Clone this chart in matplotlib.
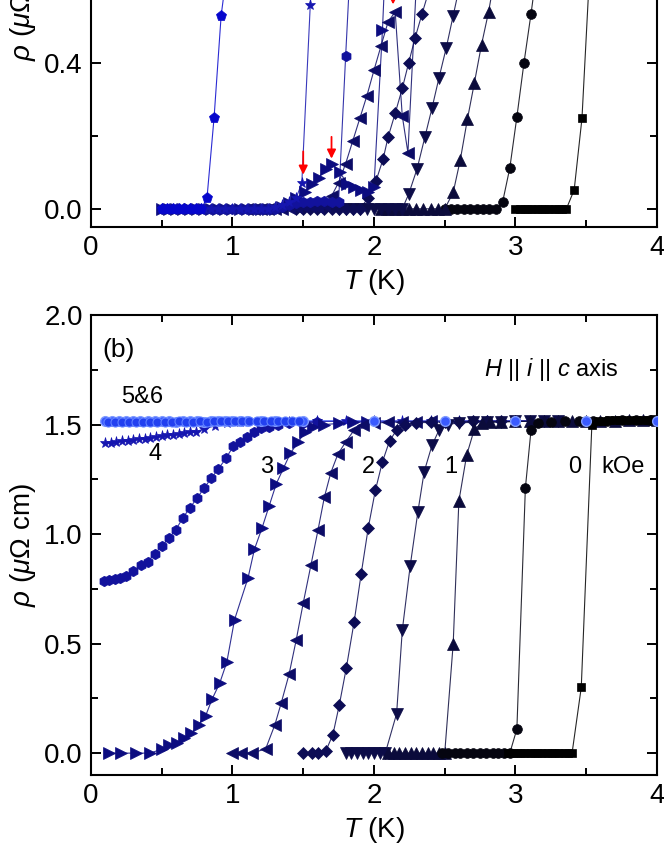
import matplotlib
matplotlib.use('Agg')
import matplotlib.pyplot as plt
from matplotlib.ticker import MultipleLocator, FormatStrFormatter

plt.rcParams['font.family'] = ['Liberation Sans', 'DejaVu Sans']
plt.rcParams['mathtext.fontset'] = 'custom'
plt.rcParams['mathtext.it'] = 'Liberation Sans:italic'
plt.rcParams['mathtext.rm'] = 'Liberation Sans'

# ---------------- panel (a) data ----------------
a0_T = [3.00, 3.03, 3.06, 3.09, 3.12, 3.15, 3.18, 3.21, 3.24, 3.27, 3.30, 3.33, 3.36, 3.415, 3.47, 3.52, 3.60]
a0_R = [0, 0, 0, 0, 0, 0, 0, 0, 0, 0, 0, 0, 0, 0.052, 0.248, 0.62, 0.95]

a05_T = [2.50, 2.545, 2.59, 2.635, 2.68, 2.725, 2.77, 2.815, 2.86, 2.91, 2.96, 3.01, 3.06, 3.11, 3.16]
a05_R = [0, 0, 0, 0, 0, 0, 0, 0, 0, 0.02, 0.112, 0.252, 0.40, 0.535, 0.68]

a1_T = [2.05, 2.10, 2.15, 2.20, 2.25, 2.30, 2.35, 2.40, 2.45, 2.50, 2.56, 2.61, 2.66, 2.71, 2.76, 2.81, 2.86]
a1_R = [0, 0, 0, 0, 0, 0, 0, 0, 0, 0, 0.045, 0.134, 0.245, 0.346, 0.45, 0.54, 0.65]

a15_T = [1.75, 1.80, 1.85, 1.90, 1.95, 2.00, 2.05, 2.10, 2.15, 2.20, 2.245, 2.305, 2.36, 2.41, 2.46, 2.51, 2.56, 2.61]
a15_R = [0, 0, 0, 0, 0, 0, 0, 0, 0, 0, 0.04, 0.11, 0.197, 0.276, 0.36, 0.44, 0.53, 0.62]

a2_T = [1.45, 1.50, 1.55, 1.60, 1.65, 1.70, 1.75, 1.80, 1.85, 1.90, 1.96, 2.015, 2.065, 2.10, 2.15, 2.20,
        2.245, 2.29, 2.34, 2.39]
a2_R = [0, 0, 0, 0, 0, 0, 0, 0, 0, 0, 0.03, 0.077, 0.137, 0.197, 0.262, 0.33, 0.40, 0.468, 0.535, 0.60]

a25_T = [1.10, 1.15, 1.20, 1.25, 1.30, 1.35, 1.40, 1.45, 1.50, 1.55, 1.60, 1.65, 1.70, 1.75, 1.80, 1.85,
         1.90, 1.95, 2.00, 2.05, 2.10, 2.15, 2.20, 2.24, 2.30, 2.35]
a25_R = [0, 0, 0, 0, 0, 0, 0.003, 0.005, 0.008, 0.008, 0.006, 0.01, 0.035, 0.072, 0.124, 0.186,
         0.248, 0.31, 0.38, 0.447, 0.513, 0.54, 0.255, 0.154, 0.62, 0.90]

a3_T = [0.50, 0.55, 0.60, 0.65, 0.70, 0.75, 0.80, 0.85, 0.90, 0.95, 1.00, 1.05, 1.10, 1.15, 1.20, 1.25,
        1.30, 1.35, 1.40, 1.45, 1.515, 1.56, 1.61, 1.66, 1.70, 1.76, 1.81, 1.86, 1.91, 1.96, 2.00, 2.06, 2.10]
a3_R = [0, 0, 0, 0, 0, 0, 0, 0, 0, 0, 0, 0, 0, 0, 0, 0,
        0, 0.005, 0.015, 0.03, 0.047, 0.069, 0.085, 0.11, 0.124, 0.10, 0.069, 0.06, 0.052, 0.047, 0.06, 0.49, 0.85]

a35_T = [0.50, 0.55, 0.60, 0.65, 0.70, 0.75, 0.80, 0.85, 0.90, 0.95, 1.00, 1.05, 1.10, 1.15, 1.20, 1.25,
         1.30, 1.35, 1.40, 1.45, 1.50, 1.55, 1.60, 1.65, 1.70, 1.75, 1.80, 1.85]
a35_R = [0, 0, 0, 0, 0, 0, 0, 0, 0, 0, 0, 0, 0, 0, 0, 0,
         0, 0.005, 0.01, 0.015, 0.02, 0.02, 0.022, 0.022, 0.02, 0.02, 0.42, 0.80]

a4_T = [0.50, 0.55, 0.60, 0.65, 0.70, 0.75, 0.80, 0.85, 0.90, 0.95, 1.00, 1.05, 1.10, 1.15, 1.20, 1.25,
        1.30, 1.35, 1.40, 1.45, 1.49, 1.55, 1.60]
a4_R = [0, 0, 0, 0, 0, 0, 0, 0, 0, 0, 0, 0, 0, 0, 0, 0,
        0.005, 0.01, 0.02, 0.03, 0.07, 0.56, 0.90]

a5_T = [0.50, 0.54, 0.58, 0.62, 0.66, 0.70, 0.74, 0.78, 0.82, 0.87, 0.92, 0.97]
a5_R = [0, 0, 0, 0, 0, 0, 0, 0, 0.03, 0.25, 0.53, 0.68]

arrow_T = [1.50, 1.70, 2.135]
arrow_tip = [0.086, 0.13, 0.553]
arrow_tail = [0.165, 0.205, 0.66]

# ---------------- panel (b) data ----------------
b0_T = [2.95, 2.98, 3.01, 3.04, 3.07, 3.10, 3.13, 3.16, 3.19, 3.22, 3.25, 3.28, 3.31, 3.34, 3.37, 3.40,
        3.465, 3.54, 3.58, 3.62, 3.66, 3.70, 3.74, 3.78, 3.82, 3.86, 3.90, 3.94, 3.98]
b0_R = [0, 0, 0, 0, 0, 0, 0, 0, 0, 0, 0, 0, 0, 0, 0, 0,
        0.30, 1.50, 1.515, 1.518, 1.52, 1.52, 1.522, 1.52, 1.522, 1.523, 1.522, 1.523, 1.524]

b05_T = [2.48, 2.52, 2.57, 2.61, 2.66, 2.70, 2.75, 2.79, 2.84, 2.88, 2.92, 2.96, 3.01, 3.07, 3.11, 3.16,
         3.25, 3.35, 3.45, 3.55, 3.65, 3.75, 3.85, 3.95]
b05_R = [0, 0, 0, 0, 0, 0, 0, 0, 0, 0, 0, 0, 0.11, 1.21, 1.475, 1.505,
         1.512, 1.515, 1.517, 1.518, 1.518, 1.52, 1.52, 1.521]

b1_T = [2.10, 2.14, 2.18, 2.22, 2.26, 2.30, 2.34, 2.38, 2.42, 2.46, 2.50, 2.56, 2.60, 2.655, 2.71, 2.76,
        2.82, 2.90, 3.00, 3.10, 3.20, 3.30, 3.40, 3.50, 3.60, 3.70, 3.80, 3.90, 4.00]
b1_R = [0, 0, 0, 0, 0, 0, 0, 0, 0, 0, 0, 0.50, 1.15, 1.36, 1.48, 1.505,
        1.51, 1.512, 1.514, 1.515, 1.515, 1.516, 1.517, 1.517, 1.518, 1.518, 1.519, 1.519, 1.52]

b15_T = [1.80, 1.84, 1.88, 1.92, 1.96, 2.00, 2.04, 2.08, 2.16, 2.20, 2.256, 2.31, 2.355, 2.41, 2.46, 2.52,
         2.60, 2.70, 2.80, 2.90, 3.00, 3.10, 3.20, 3.30]
b15_R = [0, 0, 0, 0, 0, 0, 0, 0, 0.18, 0.56, 0.855, 1.10, 1.285, 1.405, 1.475, 1.50,
         1.508, 1.51, 1.512, 1.513, 1.514, 1.515, 1.515, 1.516]

b2_T = [1.50, 1.56, 1.605, 1.66, 1.71, 1.755, 1.805, 1.86, 1.91, 1.96, 2.01, 2.06, 2.11, 2.16, 2.22, 2.30,
        2.40, 2.50, 2.60, 2.70, 2.80, 2.90]
b2_R = [0, 0, 0, 0.01, 0.085, 0.22, 0.39, 0.60, 0.82, 1.03, 1.20, 1.33, 1.425, 1.475, 1.50, 1.508,
        1.51, 1.512, 1.513, 1.514, 1.515, 1.515]

b25_T = [1.00, 1.06, 1.14, 1.235, 1.30, 1.345, 1.40, 1.45, 1.50, 1.555, 1.605, 1.65, 1.695, 1.745, 1.80, 1.86,
         1.92, 2.00, 2.10, 2.20, 2.30, 2.40]
b25_R = [0, 0, 0, 0.02, 0.13, 0.23, 0.36, 0.515, 0.685, 0.86, 1.02, 1.17, 1.28, 1.365, 1.42, 1.475,
         1.50, 1.507, 1.51, 1.512, 1.513, 1.514]

b3_T = [0.13, 0.21, 0.315, 0.42, 0.505, 0.555, 0.605, 0.66, 0.71, 0.76, 0.81, 0.855, 0.91, 0.96, 1.015, 1.11,
        1.155, 1.21, 1.26, 1.31, 1.36, 1.41, 1.465, 1.51, 1.57, 1.65, 1.75, 1.85, 1.95]
b3_R = [0, 0, 0, 0, 0.02, 0.036, 0.045, 0.07, 0.09, 0.13, 0.17, 0.245, 0.32, 0.415, 0.61, 0.80,
        0.93, 1.03, 1.13, 1.23, 1.30, 1.37, 1.42, 1.465, 1.49, 1.50, 1.505, 1.51, 1.512]

b35_T = [0.09, 0.13, 0.17, 0.205, 0.25, 0.30, 0.355, 0.40, 0.45, 0.50, 0.55, 0.60, 0.65, 0.70, 0.75, 0.80,
         0.85, 0.90, 0.955, 1.005, 1.05, 1.10, 1.15, 1.20, 1.26, 1.32, 1.40, 1.50, 1.60]
b35_R = [0.785, 0.79, 0.795, 0.80, 0.81, 0.83, 0.858, 0.873, 0.91, 0.945, 0.98, 1.02, 1.075, 1.12, 1.165, 1.21,
         1.255, 1.297, 1.347, 1.40, 1.42, 1.445, 1.467, 1.483, 1.49, 1.50, 1.505, 1.508, 1.51]

b4_T = [0.10, 0.14, 0.18, 0.22, 0.26, 0.30, 0.34, 0.38, 0.42, 0.46, 0.50, 0.54, 0.58, 0.62, 0.66, 0.70,
        0.74, 0.80, 0.88, 0.96, 1.05, 1.20, 1.40, 1.60, 1.80, 2.00, 2.20, 2.40, 2.60, 2.80, 3.00, 3.20]
b4_R = [1.417, 1.418, 1.421, 1.424, 1.426, 1.430, 1.433, 1.436, 1.440, 1.443, 1.446, 1.450, 1.453, 1.457,
        1.460, 1.464, 1.467, 1.48, 1.495, 1.505, 1.51, 1.512, 1.513, 1.514, 1.515, 1.515, 1.516, 1.516,
        1.517, 1.517, 1.518, 1.518]

b5_T = [0.12, 0.17, 0.22, 0.27, 0.32, 0.37, 0.42, 0.47, 0.52, 0.57, 0.62, 0.67, 0.72, 0.77, 0.82, 0.87,
        0.92, 0.97, 1.02, 1.07, 1.12, 1.17, 1.22, 1.27, 1.32, 1.37, 1.42, 1.47]
b5_R = [1.512, 1.51, 1.513, 1.511, 1.512, 1.51, 1.512, 1.511, 1.513, 1.512, 1.514, 1.512, 1.513, 1.515,
        1.513, 1.514, 1.516, 1.514, 1.515, 1.517, 1.515, 1.516, 1.517, 1.516, 1.517, 1.518, 1.517, 1.518]

b6_T = [0.10, 0.15, 0.20, 0.25, 0.30, 0.35, 0.40, 0.45, 0.50, 0.55, 0.60, 0.65, 0.70, 0.75, 0.80, 0.85,
        0.90, 0.95, 1.00, 1.05, 1.10, 1.20, 1.30, 1.50, 2.00, 2.50, 3.00, 3.50, 4.00]
b6_R = [1.515, 1.517, 1.514, 1.516, 1.515, 1.514, 1.516, 1.515, 1.514, 1.515, 1.513, 1.514, 1.515, 1.514,
        1.513, 1.514, 1.515, 1.514, 1.516, 1.515, 1.516, 1.517, 1.518, 1.517, 1.516, 1.515, 1.514, 1.516, 1.515]

field_labels = ['0', '1', '2', '3', '4', '5&6']
field_T = [3.42, 2.545, 1.96, 1.245, 0.453, 0.36]
field_R = [1.305, 1.305, 1.305, 1.305, 1.365, 1.627]

# styles: (marker, color, markersize)
styles = {
    '0': ('s', '#000000', 6),
    '0.5': ('o', '#050510', 7),
    '1': ('^', '#0b0b3b', 8),
    '1.5': ('v', '#0c0c48', 8),
    '2': ('D', '#0c0c55', 6),
    '2.5': ('<', '#0c0c66', 8),
    '3': ('>', '#0c0c80', 8),
    '3.5': ('h', '#12129c', 7.5),
    '4': ('*', '#1616b0', 8),
    '5': ('p', '#0606cc', 8),
}

fig = plt.figure(figsize=(6.64, 8.6), dpi=100)
ax1 = fig.add_axes([0.137, 0.736, 0.8524, 0.530])
ax2 = fig.add_axes([0.137, 0.0988, 0.8524, 0.5349])


def curve(ax, T, R, key):
    m, c, ms = styles[key]
    ax.plot(T, R, '-', color=c, lw=0.8, alpha=0.85, zorder=2)
    ax.plot(T, R, m, color=c, ms=ms, mec=c, mew=0.5, zorder=3)


# low fields first so the blue high-field zeros sit on top of the baseline
curve(ax1, a0_T, a0_R, '0')
curve(ax1, a05_T, a05_R, '0.5')
curve(ax1, a1_T, a1_R, '1')
curve(ax1, a15_T, a15_R, '1.5')
curve(ax1, a2_T, a2_R, '2')
curve(ax1, a25_T, a25_R, '2.5')
curve(ax1, a3_T, a3_R, '3')
curve(ax1, a35_T, a35_R, '3.5')
curve(ax1, a4_T, a4_R, '4')
curve(ax1, a5_T, a5_R, '5')

for x, y0, y1 in zip(arrow_T, arrow_tip, arrow_tail):
    ax1.annotate('', xy=(x, y0), xytext=(x, y1),
                 arrowprops=dict(arrowstyle='-|>', color='red', lw=1.3, mutation_scale=13), zorder=5)

# panel (b)
ax2.plot(b6_T, b6_R, '-', color='#3a5aff', lw=0.8, zorder=2)
ax2.plot(b6_T, b6_R, 'o', color='#3a5aff', mec='#7f9bff', mew=1.0, ms=7, zorder=4)
ax2.plot(b5_T, b5_R, 'o', color='#2240f0', mec='#6080ff', mew=0.8, ms=6.5, zorder=4)
curve(ax2, b4_T, b4_R, '4')
curve(ax2, b35_T, b35_R, '3.5')
curve(ax2, b3_T, b3_R, '3')
curve(ax2, b25_T, b25_R, '2.5')
curve(ax2, b2_T, b2_R, '2')
curve(ax2, b15_T, b15_R, '1.5')
curve(ax2, b1_T, b1_R, '1')
curve(ax2, b05_T, b05_R, '0.5')
curve(ax2, b0_T, b0_R, '0')

for lab, x, y in zip(field_labels, field_T, field_R):
    ax2.text(x, y, lab, ha='center', va='center', fontsize=17)
ax2.text(3.76, 1.305, 'kOe', ha='center', va='center', fontsize=17)
ax2.text(0.08, 1.84, '(b)', ha='left', va='center', fontsize=19)
ax2.text(2.78, 1.75, '$H$ || $i$ || $c$ axis', ha='left', va='center', fontsize=17)

for ax in (ax1, ax2):
    ax.set_xlim(0, 4)
    ax.xaxis.set_major_locator(MultipleLocator(1))
    ax.xaxis.set_minor_locator(MultipleLocator(0.5))
    ax.tick_params(which='both', direction='in', top=True, right=True, width=1.4, labelsize=20)
    ax.tick_params(which='major', length=7, pad=6)
    ax.tick_params(which='minor', length=5)
    for s in ax.spines.values():
        s.set_linewidth(1.5)
    ax.set_xlabel('$T$ (K)', fontsize=20, labelpad=4)
    ax.set_ylabel('$\\rho$ ($\\mu\\Omega$ cm)', fontsize=20, labelpad=4)
    ax.yaxis.set_major_formatter(FormatStrFormatter('%.1f'))

ax1.set_ylim(-0.05, 1.2)
ax1.yaxis.set_major_locator(MultipleLocator(0.4))
ax1.yaxis.set_minor_locator(MultipleLocator(0.2))

ax2.set_ylim(-0.1, 2.0)
ax2.yaxis.set_major_locator(MultipleLocator(0.5))
ax2.yaxis.set_minor_locator(MultipleLocator(0.25))

fig.savefig('out.png', dpi=100)
plt.close(fig)
